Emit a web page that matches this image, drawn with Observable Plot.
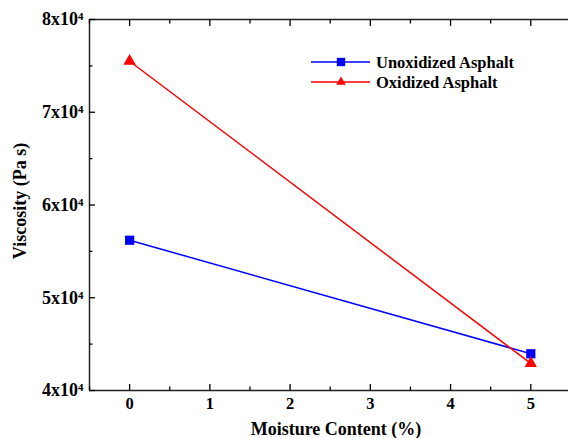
<!DOCTYPE html>
<html>
<head>
<meta charset="utf-8">
<script src="https://cdn.jsdelivr.net/npm/d3@7"></script>
<script src="https://cdn.jsdelivr.net/npm/@observablehq/plot@0.6"></script>
<style>
  html, body { margin: 0; padding: 0; background: #fff; overflow: hidden; }
  #wrap { position: relative; width: 568px; height: 438px; }
  #legend { position: absolute; left: 0; top: 0; pointer-events: none; }
  #wrap text { font-family: "Liberation Serif", "Times New Roman", serif !important; font-weight: bold !important; }
  #wrap .xtl text { font-size: 16.5px !important; }
  #wrap .ytl text { font-size: 18px !important; }
  #wrap .title text { font-size: 18px !important; }
  #legend text { font-size: 16.5px !important; }
</style>
</head>
<body>
<div id="wrap"></div>
<script>
const moisture = [0, 5];
const unoxidized = [56200, 43960];
const oxidized = [75500, 42920];
const seriesNames = ["Unoxidized Asphalt", "Oxidized Asphalt"];
const xMajorTicks = [0, 1, 2, 3, 4, 5];
const xMinorTicks = [-0.5, 0.5, 1.5, 2.5, 3.5, 4.5];
const yMajorTicks = [40000, 50000, 60000, 70000, 80000];
const yMinorTicks = [45000, 55000, 65000, 75000];
const xLabel = "Moisture Content (%)";
const yLabel = "Viscosity (Pa s)";

const rows = [];
moisture.forEach((m, i) => {
  rows.push({series: seriesNames[0], x: m, y: unoxidized[i]});
  rows.push({series: seriesNames[1], x: m, y: oxidized[i]});
});
const blue = rows.filter(d => d.series === seriesNames[0]);
const red = rows.filter(d => d.series === seriesNames[1]);

const font = `"Liberation Serif", "Times New Roman", serif`;
const xDomain = [-0.5, 5.47];
const yDomain = [40000, 80000];

const chart = Plot.plot({
  width: 568,
  height: 438,
  marginLeft: 89,
  marginRight: 0,
  marginTop: 19,
  marginBottom: 48,
  style: {fontFamily: font, fontWeight: "bold", fontSize: "15px", color: "#000", background: "#fff"},
  x: {domain: xDomain},
  y: {domain: yDomain},
  marks: [
    Plot.ruleY(yDomain, {stroke: "#222", strokeWidth: 1.5}),
    Plot.ruleX([xDomain[0]], {stroke: "#222", strokeWidth: 1.5}),
    Plot.axisX({anchor: "bottom", ticks: xMajorTicks, tickSize: -6, text: null, label: null, strokeWidth: 1.3}),
    Plot.axisX({anchor: "bottom", ticks: xMinorTicks, tickSize: -3.5, text: null, label: null, strokeWidth: 1.3}),
    Plot.axisX({anchor: "top", ticks: xMajorTicks, tickSize: -6, text: null, label: null, strokeWidth: 1.3}),
    Plot.axisX({anchor: "top", ticks: xMinorTicks, tickSize: -3.5, text: null, label: null, strokeWidth: 1.3}),
    Plot.axisY({anchor: "left", ticks: yMajorTicks, tickSize: -6, text: null, label: null, strokeWidth: 1.3}),
    Plot.axisY({anchor: "left", ticks: yMinorTicks, tickSize: -3.5, text: null, label: null, strokeWidth: 1.3}),
    Plot.text(xMajorTicks, {x: d => d, frameAnchor: "bottom", lineAnchor: "top", dy: 7, text: d => String(d), className: "xtl"}),
    Plot.text(yMajorTicks, {y: d => d, frameAnchor: "left", textAnchor: "end", dx: -6, text: d => `${d / 10000}x10\u2074`, className: "ytl"}),
    Plot.text([xLabel], {frameAnchor: "bottom", text: d => d, textAnchor: "middle", dy: 44, dx: 7, className: "title"}),
    Plot.text([yLabel], {frameAnchor: "left", text: d => d, textAnchor: "middle", rotate: -90, dx: -69, dy: -4, className: "title"}),
    Plot.line(blue, {x: "x", y: "y", stroke: "#0000ff", strokeWidth: 1.5}),
    Plot.line(red, {x: "x", y: "y", stroke: "#ff0000", strokeWidth: 1.5}),
    Plot.dot(blue, {x: "x", y: "y", symbol: "square", r: 5.2, fill: "#0000ff", stroke: "none"}),
    Plot.dot(red, {x: "x", y: "y", symbol: "triangle", r: 4.6, fill: "#ff0000", stroke: "none"})
  ]
});

const wrap = document.getElementById("wrap");
wrap.appendChild(chart);

const ns = "http://www.w3.org/2000/svg";
const leg = document.createElementNS(ns, "svg");
leg.setAttribute("id", "legend");
leg.setAttribute("width", 568);
leg.setAttribute("height", 438);
const legendItems = [
  {name: seriesNames[0], color: "#0000ff", symbol: d3.symbolSquare, size: 70},
  {name: seriesNames[1], color: "#ff0000", symbol: d3.symbolTriangle2, size: 66}
];
legendItems.forEach((it, i) => {
  const y = 62 + i * 20;
  const line = document.createElementNS(ns, "line");
  line.setAttribute("x1", 311); line.setAttribute("x2", 370);
  line.setAttribute("y1", y); line.setAttribute("y2", y);
  line.setAttribute("stroke", it.color); line.setAttribute("stroke-width", 1.3);
  leg.appendChild(line);
  const p = document.createElementNS(ns, "path");
  p.setAttribute("d", d3.symbol(it.symbol, it.size)());
  p.setAttribute("transform", `translate(341,${y})`);
  p.setAttribute("fill", it.color);
  leg.appendChild(p);
  const t = document.createElementNS(ns, "text");
  t.setAttribute("x", 376); t.setAttribute("y", y + 5.5);
  t.setAttribute("fill", "#000");
  t.textContent = it.name;
  leg.appendChild(t);
});
wrap.appendChild(leg);
</script>
</body>
</html>
